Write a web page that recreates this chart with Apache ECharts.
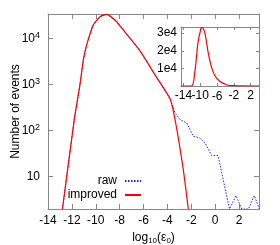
<!DOCTYPE html>
<html><head><meta charset="utf-8">
<script src="https://cdn.jsdelivr.net/npm/echarts@6/dist/echarts.min.js"></script>
<style>html,body{margin:0;padding:0;background:#fff}#c{width:280px;height:245px}</style>
</head><body><div id="c"></div>
<script>
// Main plot data: log10(eps0) vs number of events
const improvedX = [-12.79, -11.8, -11.32, -11.04, -10.76, -10.21, -9.64, -9.08, -8.39, -7.69, -6.29, -5.04, -3.78, -3.36, -2.67, -2.25];
const improvedY = [2, 172, 1000, 3400, 7170, 19400, 29300, 33000, 24800, 15100, 5320, 1610, 489, 172, 14.3, 2];
// raw shares the improved curve up to the kink, then this tail
const rawTailX = [-3.36, -2.94, -2.38, -1.83, -1.27, -0.85, -0.29, 0.24, 1.2, 1.75, 2.22, 2.78, 3.28, 3.7];
const rawTailY = [240, 172, 146, 75, 69, 54, 28.7, 28.7, 2, 3.9, 2, 2, 3.9, 2];
const rawSharedCount = 13; // number of improved points shared by raw
// Inset (linear scale)
const insetX = [-14.6, -12.1, -11.31, -10.53, -9.95, -9.57, -8.93, -8.14, -7.33, -6.54, -5.35, -3.75, -2.17, 4];
const insetY = [0, 0, 7900, 24900, 31500, 33300, 30500, 19200, 10700, 6000, 2650, 730, 170, 0];
// Tick labels
const mainXTicks = [-14, -12, -10, -8, -6, -4, -2, 0, 2];
const mainYTicks = [10, 100, 1000, 10000];
const insetXTicks = [-14, -10, -6, -2, 2];
const insetXLabelsA = [-14, 2];
const insetXLabelsB = [-10, -2];
const insetXLabelMid = '-6';
const insetYTicks = [10000, 20000, 30000];

const FONT = 'Liberation Sans';
const frame = '#888888';
const pairs = (xs, ys) => xs.map((x, i) => [x, ys[i]]);
const improved = pairs(improvedX, improvedY);
const raw = improved.slice(0, rawSharedCount).concat(pairs(rawTailX, rawTailY));
const inset = pairs(insetX, insetY);

const supFmt = v => {
  const l = Math.round(Math.log10(v));
  if (!mainYTicks.some(t => Math.abs(t - v) / t < 1e-6)) return '';
  return l === 1 ? '10' : '10{s|' + l + '}';
};
const axisLine = {show: true, onZero: false, lineStyle: {color: frame, width: 1}};
const insetLabel = vals => ({customValues: vals, interval: 0, hideOverlap: false, showMinLabel: true, showMaxLabel: true,
  color: '#000', fontSize: 12, fontFamily: FONT, margin: 4});
const chart = echarts.init(document.getElementById('c'));
chart.setOption({
  animation: false,
  textStyle: {fontFamily: FONT},
  grid: [
    {left: 48, top: 14, width: 211, height: 195, show: false, containLabel: false, outerBoundsMode: 'none'},
    {left: 181, top: 27, width: 78, height: 59, show: true, backgroundColor: '#fff', borderWidth: 0, z: 5,
     containLabel: false, outerBoundsMode: 'none'}
  ],
  legend: {
    data: ['raw', 'improved'], orient: 'vertical', right: 133, top: 170, align: 'right',
    itemWidth: 16, itemHeight: 12, itemGap: 2,
    itemStyle: {opacity: 0},
    textStyle: {fontFamily: FONT, fontSize: 12, color: '#000', padding: [0, 3, 0, 0]}
  },
  xAxis: [
    {gridIndex: 0, type: 'value', min: -14, max: 3.67, interval: 2, position: 'bottom',
     axisLine, splitLine: {show: false},
     axisTick: {inside: true, length: 5, lineStyle: {color: frame}, customValues: mainXTicks},
     axisLabel: {customValues: mainXTicks, color: '#000', fontSize: 12, fontFamily: FONT, margin: 6},
     name: 'log{b|10}(ε{b|0})', nameLocation: 'middle', nameGap: 22,
     nameTextStyle: {color: '#000', fontSize: 12, fontFamily: FONT,
       rich: {b: {fontSize: 8, fontFamily: FONT, verticalAlign: 'bottom', padding: [6, 0, 0, 0]}}}},
    {gridIndex: 0, type: 'value', min: -14, max: 3.67, interval: 2, position: 'top',
     axisLine, splitLine: {show: false}, axisLabel: {show: false},
     axisTick: {inside: true, length: 5, lineStyle: {color: frame}, customValues: mainXTicks}},
    {gridIndex: 1, type: 'value', min: -14.6, max: 4, position: 'bottom', z: 6,
     axisLine, splitLine: {show: false},
     axisTick: {inside: true, length: 3, lineStyle: {color: frame}, customValues: insetXTicks},
     axisLabel: insetLabel(insetXLabelsA)},
    {gridIndex: 1, type: 'value', min: -14.6, max: 4, position: 'top', z: 6,
     axisLine, splitLine: {show: false}, axisLabel: {show: false},
     axisTick: {inside: true, length: 3, lineStyle: {color: frame}, customValues: insetXTicks}},
    {gridIndex: 1, type: 'value', min: -14.6, max: 4, position: 'bottom', z: 6,
     axisLine: {show: false, onZero: false}, splitLine: {show: false}, axisTick: {show: false},
     axisLabel: insetLabel(insetXLabelsB),
     name: insetXLabelMid, nameLocation: 'middle', nameGap: 5, nameMoveOverlap: false,
     nameTextStyle: {color: '#000', fontSize: 12, fontFamily: FONT, padding: [0, 6, 0, 0]}}
  ],
  yAxis: [
    {gridIndex: 0, type: 'log', min: 2, max: 33500, position: 'left',
     axisLine, splitLine: {show: false}, minorTick: {show: false},
     axisTick: {inside: true, length: 5, lineStyle: {color: frame}},
     axisLabel: {formatter: supFmt, color: '#000', fontSize: 12, fontFamily: FONT, margin: 8,
       rich: {s: {fontSize: 9, fontFamily: FONT, verticalAlign: 'top', padding: [0, 0, 6, 0]}}},
     name: 'Number of events', nameLocation: 'middle', nameGap: 26, nameRotate: 90, nameMoveOverlap: false,
     nameTextStyle: {color: '#000', fontSize: 12, fontFamily: FONT}},
    {gridIndex: 0, type: 'log', min: 2, max: 33500, position: 'right',
     axisLine, splitLine: {show: false}, axisLabel: {show: false},
     axisTick: {inside: true, length: 5, lineStyle: {color: frame}}},
    {gridIndex: 1, type: 'value', min: 0, max: 33500, position: 'left', z: 6,
     axisLine, splitLine: {show: false},
     axisTick: {inside: true, length: 3, lineStyle: {color: frame}, customValues: insetYTicks},
     axisLabel: {customValues: insetYTicks, formatter: v => (v / 10000) + 'e4', color: '#000', fontSize: 12, fontFamily: FONT, margin: 4}},
    {gridIndex: 1, type: 'value', min: 0, max: 33500, position: 'right', z: 6,
     axisLine, splitLine: {show: false}, axisLabel: {show: false},
     axisTick: {inside: true, length: 3, lineStyle: {color: frame}, customValues: insetYTicks}}
  ],
  series: [
    {name: 'raw', type: 'line', xAxisIndex: 0, yAxisIndex: 0, data: raw, showSymbol: false, symbol: 'none',
     clip: true, lineStyle: {color: '#2020ff', width: 1, type: [1.5, 1.5]}, itemStyle: {color: '#2020ff'}, z: 2},
    {name: 'improved', type: 'line', xAxisIndex: 0, yAxisIndex: 0, data: improved, showSymbol: false, symbol: 'none',
     clip: true, smooth: 0.2, lineStyle: {color: '#ff0000', width: 1.2}, itemStyle: {color: '#ff0000'}, z: 3},
    {name: 'inset', type: 'line', xAxisIndex: 2, yAxisIndex: 2, data: inset, showSymbol: false, symbol: 'none',
     clip: true, smooth: 0.3, lineStyle: {color: '#ff0000', width: 1.2}, itemStyle: {color: '#ff0000'}, z: 7}
  ]
});
</script></body></html>
